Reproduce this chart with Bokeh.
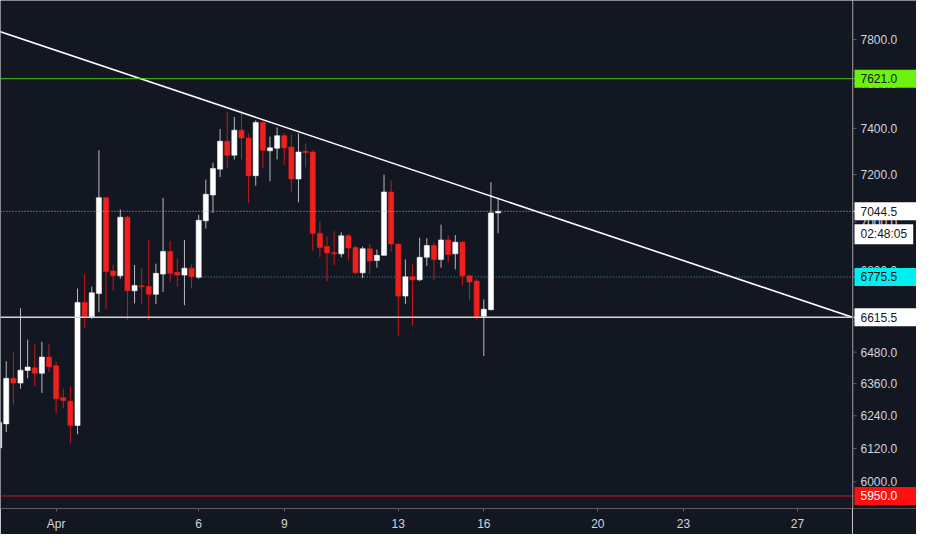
import pandas as pd
from bokeh.plotting import figure
from bokeh.layouts import row
from bokeh.models import (ColumnDataSource, FixedTicker, Span, Range1d, Label)
from bokeh.core.properties import value
from bokeh.embed import file_html
from bokeh.resources import INLINE

# ---------------- data ----------------
start_time = "2018-03-30 00:00"   # 6-hour candles
opens = [6122, 6210, 6380, 6362, 6410, 6420, 6399, 6461, 6428, 6307, 6294, 6204, 6674, 6617,
         6709, 7102, 6800, 6780, 7020, 6720, 6740, 6737, 6706, 6787, 6879, 6794, 6783, 6811,
         6774, 7005, 7113, 7223, 7344, 7283, 7392, 7358, 7195, 7426, 7302, 7313, 7368, 7318,
         7181, 7300, 7297, 6953, 6899, 6874, 6869, 6943, 6895, 6792, 6890, 6842, 6863, 7126,
         6909, 6699, 6776, 6764, 6855, 6903, 6846, 6926, 6869, 6917, 6780, 6759, 6619, 6645, 7038]
highs = [6229, 6445, 6480, 6651, 6528, 6510, 6520, 6510, 6442, 6341, 6349, 6729, 6787, 6737,
         7304, 7106, 6826, 7052, 7025, 6824, 6811, 6926, 6829, 7101, 6922, 6850, 6926, 6826,
         7030, 7178, 7251, 7397, 7473, 7450, 7478, 7378, 7435, 7433, 7364, 7404, 7378, 7373,
         7378, 7333, 7304, 7003, 6939, 6962, 6957, 6949, 6903, 6899, 6909, 6886, 7199, 7175,
         6911, 6846, 6826, 6935, 6933, 6917, 6989, 6946, 6946, 6922, 6782, 6768, 6686, 7167, 7102]
lows = [6097, 6180, 6282, 6341, 6380, 6349, 6325, 6405, 6248, 6268, 6139, 6172, 6574, 6609,
        6635, 6647, 6722, 6768, 6606, 6670, 6668, 6604, 6668, 6716, 6755, 6737, 6663, 6729,
        6768, 6973, 7038, 7189, 7227, 7265, 7265, 7079, 7153, 7227, 7171, 7265, 7241, 7126,
        7082, 7231, 6882, 6855, 6759, 6824, 6855, 6842, 6787, 6771, 6787, 6813, 6860, 6879,
        6543, 6668, 6581, 6759, 6820, 6764, 6813, 6833, 6806, 6741, 6681, 6604, 6465, 6643, 6953]
closes = [6215, 6380, 6362, 6411, 6423, 6399, 6461, 6424, 6303, 6297, 6204, 6674, 6619, 6712,
          7102, 6798, 6780, 7020, 6720, 6741, 6736, 6706, 6790, 6879, 6790, 6783, 6811, 6776,
          7007, 7116, 7226, 7344, 7283, 7392, 7358, 7195, 7426, 7304, 7315, 7368, 7315, 7181,
          7297, 7294, 6953, 6895, 6873, 6869, 6943, 6893, 6792, 6890, 6840, 6863, 7126, 6909,
          6699, 6776, 6764, 6855, 6903, 6846, 6926, 6866, 6917, 6780, 6755, 6619, 6647, 7038, 7044.5]

trend_times = ["2018-03-30 00:00", "2018-04-29 00:00"]
trend_prices = [7838, 6613]

green_level = 7621.0
last_price = 7044.5
cyan_level = 6775.5
cyan_start = "2018-04-06 00:00"
support_level = 6615.5
red_level = 5950.0
countdown = "02:48:05"

y_ticks = [6000, 6120, 6240, 6360, 6480, 6600, 6800, 7000, 7200, 7400, 7600, 7800]
x_tick_dates = ["2018-04-01", "2018-04-06", "2018-04-09", "2018-04-13",
                "2018-04-16", "2018-04-20", "2018-04-23", "2018-04-27"]
x_tick_labels = ["Apr", "6", "9", "13", "16", "20", "23", "27"]

# ---------------- style ----------------
BG = "#131722"
TXT = "#d1d4dc"
AX = "#5d606b"
FONT = "Liberation Sans"
FRAME_H = 508
BOTTOM = 26

times = pd.date_range(start_time, periods=len(opens), freq="6h")
df = pd.DataFrame(dict(t=times, o=opens, h=highs, l=lows, c=closes))
df["top"] = df[["o", "c"]].max(axis=1)
df["bot"] = df[["o", "c"]].min(axis=1)
up = df["c"] >= df["o"]
df["body"] = ["#ffffff" if u else "#f0201d" for u in up]
df["wick"] = ["#b8bac0" if u else "#c8181a" for u in up]
src = ColumnDataSource(df)

x_left = pd.Timestamp("2018-03-30 01:10")
x_right = pd.Timestamp("2018-04-28 22:20")
yr = Range1d(5906, 7983)

# ---------------- main chart ----------------
p = figure(frame_width=852, frame_height=FRAME_H, x_axis_type="datetime", y_axis_type="log",
           x_range=Range1d(x_left, x_right), y_range=yr,
           output_backend="svg", toolbar_location=None,
           background_fill_color=BG, border_fill_color=BG,
           min_border_left=0, min_border_top=0, min_border_right=0, min_border_bottom=BOTTOM,
           y_axis_location=None, outline_line_color=None)
p.grid.visible = False

p.add_layout(Span(location=green_level, dimension="width", line_color="#4fc814", line_width=1))
p.add_layout(Span(location=red_level, dimension="width", line_color="#d01818", line_width=1))
p.add_layout(Span(location=last_price, dimension="width", line_color="#aeb1b8",
                  line_width=1, line_dash="1 2"))
p.add_layout(Span(location=support_level, dimension="width", line_color="#d6d6d6", line_width=1.6))
p.segment(x0=[pd.Timestamp(cyan_start)], y0=[cyan_level],
          x1=[pd.Timestamp("2018-05-15")], y1=[cyan_level],
          line_color="#3aa7a9", line_width=1, line_dash="1 2")

w = 6 * 3600 * 1000 * 0.72
p.segment(x0="t", y0="l", x1="t", y1="h", line_color="wick", line_width=1, source=src)
p.vbar(x="t", width=w, top="top", bottom="bot", fill_color="body", line_color="body",
       line_width=0.5, source=src)

p.line(x=[pd.Timestamp(t) for t in trend_times], y=trend_prices, line_color="#ffffff", line_width=1.6)

xa = p.xaxis[0]
tick_ms = [pd.Timestamp(d).value // 10**6 for d in x_tick_dates]
xa.ticker = FixedTicker(ticks=tick_ms)
xa.major_label_overrides = {int(m): lab for m, lab in zip(tick_ms, x_tick_labels)}
xa.axis_line_color = AX
xa.major_tick_line_color = AX
xa.major_tick_out = 3
xa.major_tick_in = 0
xa.minor_tick_line_color = None
xa.major_label_text_color = TXT
xa.major_label_text_font = FONT
xa.major_label_text_font_size = "12px"
xa.major_label_standoff = 5

# ---------------- price scale ----------------
q = figure(frame_width=64, frame_height=FRAME_H, y_axis_type="log",
           x_range=Range1d(0, 64), y_range=yr,
           output_backend="svg", toolbar_location=None,
           background_fill_color=BG, border_fill_color=BG,
           min_border_left=0, min_border_top=0, min_border_right=0, min_border_bottom=BOTTOM,
           x_axis_location=None, y_axis_location=None, outline_line_color=None)
q.grid.visible = False
q.add_layout(Span(location=0.5, dimension="height", line_color=AX, line_width=1))

tick_text = [f"{t:.1f}" for t in y_ticks]
q.segment(x0=0, x1=4, y0=y_ticks, y1=y_ticks, line_color=AX, line_width=1)
q.text(x=8, y=y_ticks, text=tick_text, text_color=TXT, text_font=value(FONT),
       text_font_size="12px", text_baseline="middle", text_align="left")

box_levels = [green_level, last_price, cyan_level, support_level, red_level]
box_fill = ["#6cf20c", "#ffffff", "#00f0f0", "#ffffff", "#ff1010"]
box_text_color = ["#111111", "#131722", "#111111", "#131722", "#ffffff"]
box_text = [f"{v:.1f}" for v in box_levels]

q.segment(x0=0, x1=4, y0=box_levels, y1=box_levels, line_color=box_fill, line_width=1)
q.rect(x=33, y=box_levels, width=62, height=18, height_units="screen",
       fill_color=box_fill, line_color=None)
q.text(x=8, y=box_levels, text=box_text, text_color=box_text_color, text_font=value(FONT),
       text_font_size="12px", text_baseline="middle", text_align="left")

# countdown box just below the last-price box
q.add_layout(Label(x=2, y=last_price, x_units="data", y_units="data", y_offset=-13,
                   text=countdown, text_color="#131722", text_font=FONT,
                   text_font_size="12px", text_baseline="top", text_align="left",
                   background_fill_color="#ffffff", background_fill_alpha=1.0,
                   padding=(6, 3)))

layout = row(p, q, spacing=0)
open("out.html", "w").write(file_html(layout, INLINE))
